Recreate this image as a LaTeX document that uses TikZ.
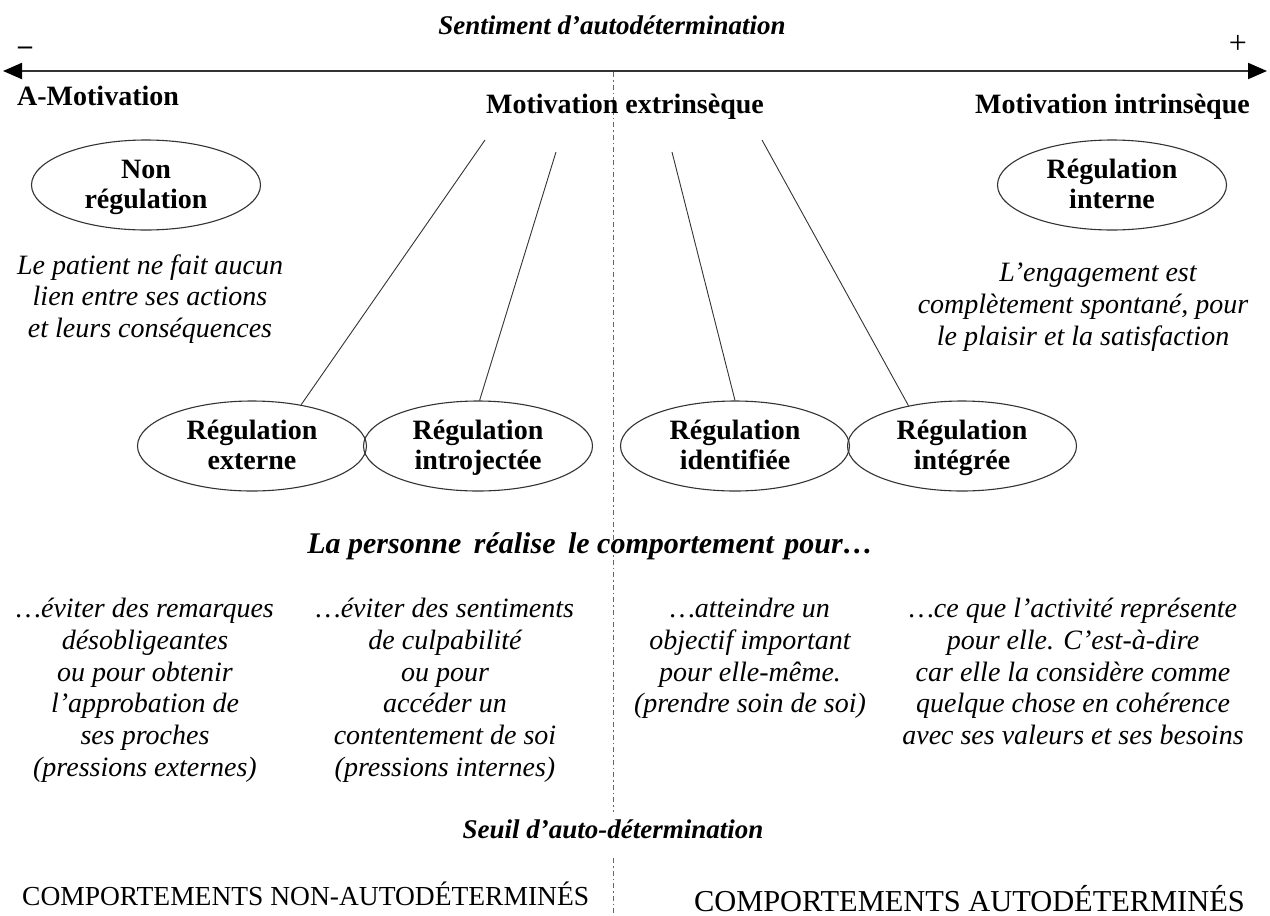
\documentclass[tikz,border=0pt]{standalone}
\usepackage{fontspec}
\setmainfont{Liberation Serif}
\usetikzlibrary{arrows.meta,shapes.geometric}
\newcommand{\twol}[2]{\rule{0pt}{25pt}#1\\#2\rule[-8pt]{0pt}{8pt}}
\tikzset{
  ell/.style={ellipse,draw=black!80,line width=1.1pt,minimum width=229pt,minimum height=90pt,inner sep=0pt,align=center,font=\fontsize{28}{30}\selectfont\bfseries},
  desc/.style={align=center,font=\fontsize{28}{31.7}\selectfont\itshape,inner sep=0pt},
  lbl/.style={font=\fontsize{28}{30}\selectfont\bfseries,inner sep=0pt},
  link/.style={draw=black!80,line width=0.9pt},
  axis/.style={line width=2pt,draw=black!80,{Triangle[length=19pt,width=16pt,color=black]}-{Triangle[length=19pt,width=16pt,color=black]}},
  seuil/.style={draw=black!60,line width=1pt,dash pattern=on 5pt off 3pt on 1.5pt off 3pt},
}
\begin{document}
\begin{tikzpicture}[x=1pt,y=-1pt]
\useasboundingbox (0,0) rectangle (1270,916);
% threshold line
\coordinate (sTop) at (613,72);
\coordinate (gapA) at (613,812);
\coordinate (gapB) at (613,858);
\coordinate (sBot) at (613,916);
\draw[seuil] (sTop) -- (gapA);
\draw[seuil] (gapB) -- (sBot);
% axis
\coordinate (aL) at (3,71);
\coordinate (aR) at (1267,71);
\draw[axis] (aL) -- (aR);
\node[font=\fontsize{27}{30}\selectfont\bfseries\itshape,inner sep=0pt] (title) at (612,25) {Sentiment d’autodétermination};
\node[font=\fontsize{28}{30}\selectfont\bfseries,inner sep=0pt] (minus) at (25,51) {–};
\node[font=\fontsize{32}{34}\selectfont,inner sep=0pt] (plus) at (1238,44) {+};
\node[lbl,anchor=west] (amot) at (17,96) {A-Motivation};
\node[lbl] (mext) at (625,107) {Motivation extrinsèque};
\node[lbl,anchor=east] (mint) at (1250,107) {Motivation intrinsèque};
% ellipses
\node[ell] (nonreg) at (146,185) {\twol{Non}{régulation}};
\node[ell] (regint) at (1112,185) {\twol{Régulation}{interne}};
\node[ell] (e1) at (252,446) {\twol{Régulation}{externe}};
\node[ell] (e2) at (478,446) {\twol{Régulation}{introjectée}};
\node[ell] (e3) at (735,446) {\twol{Régulation}{identifiée}};
\node[ell] (e4) at (962,446) {\twol{Régulation}{intégrée}};
% links
\coordinate (c1) at (485,140);
\coordinate (c2) at (556,152);
\coordinate (c3) at (672,152);
\coordinate (c4) at (762,140);
\draw[link] (c1) -- (e1.40);
\draw[link] (c2) -- (e2.88);
\draw[link] (c3) -- (e3.90);
\draw[link] (c4) -- (e4.143);
% descriptions
\node[desc] (dnon) at (150,299) {Le patient ne fait aucun\\lien entre ses actions\\et leurs conséquences};
\node[desc] (dint) at (1083,307) {\hspace*{30pt}L’engagement est\\complètement spontané, pour\\le plaisir et la satisfaction};
\node[font=\fontsize{30}{34}\selectfont\bfseries\itshape,inner sep=0pt] (pers) at (590,546) {La personne\hspace{5pt} réalise\hspace{5pt} le comportement\hspace{3pt} pour…};
\node[desc,anchor=north] (d1) at (145,598) {…éviter des remarques\\désobligeantes\\ou pour obtenir\\l’approbation de\\ses proches\\(pressions externes)};
\node[desc,anchor=north] (d2) at (445,598) {…éviter des sentiments\\de culpabilité\\ou pour\\accéder un\\contentement de soi\\(pressions internes)};
\node[desc,anchor=north] (d3) at (750,598) {…atteindre un\\objectif important\\pour elle-même.\\(prendre soin de soi)};
\node[desc,anchor=north] (d4) at (1073,598) {…ce que l’activité représente\\pour elle. C’est-à-dire\\car elle la considère comme\\quelque chose en cohérence\\avec ses valeurs et ses besoins};
\node[font=\fontsize{27}{30}\selectfont\bfseries\itshape,inner sep=0pt] (seuiltxt) at (613,829) {Seuil d’auto-détermination};
\node[font=\fontsize{27.5}{30}\selectfont,inner sep=0pt,anchor=west] (cna) at (22,894) {COMPORTEMENTS NON-AUTODÉTERMINÉS};
\node[font=\fontsize{30.4}{32}\selectfont,inner sep=0pt,anchor=east] (ca) at (1245,899) {COMPORTEMENTS AUTODÉTERMINÉS};
\end{tikzpicture}
\end{document}
